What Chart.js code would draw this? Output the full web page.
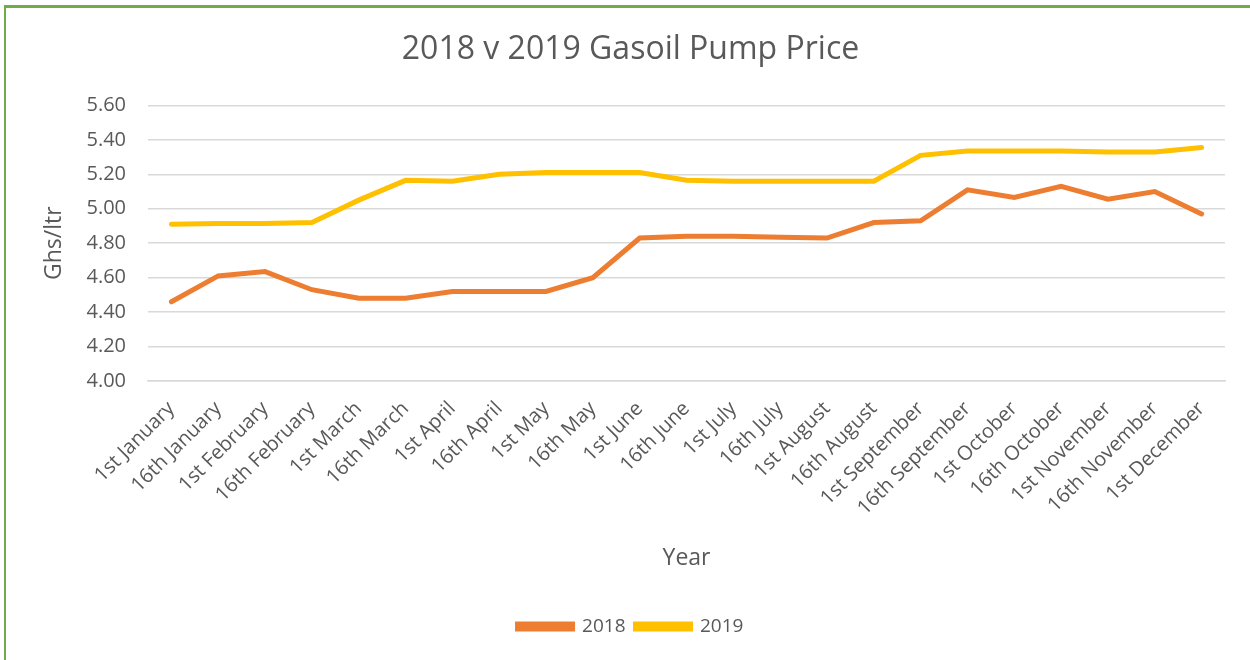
<!DOCTYPE html>
<html>
<head>
<meta charset="utf-8">
<script src="https://cdn.jsdelivr.net/npm/chart.js@4/dist/chart.umd.min.js"></script>
<style>
  html, body { margin: 0; padding: 0; background: #fff; overflow: hidden; }
  .frame {
    position: absolute; left: 4px; top: 5px; width: 1300px; height: 700px;
    border-left: 2px solid #70ad47; border-top: 3px solid #70ad47;
  }
  .wrap { position: absolute; left: 0; top: 0; width: 1250px; height: 660px; }
</style>
</head>
<body>
<div class="frame"></div>
<div class="wrap"><canvas id="priceChart"></canvas></div>
<script>
const categories = [
    "1st January", "16th January", "1st February", "16th February",
    "1st March", "16th March", "1st April", "16th April",
    "1st May", "16th May", "1st June", "16th June",
    "1st July", "16th July", "1st August", "16th August",
    "1st September", "16th September", "1st October", "16th October",
    "1st November", "16th November", "1st December"
];
const prices2018 = [4.46, 4.61, 4.635, 4.53, 4.48, 4.48, 4.52, 4.52, 4.52, 4.60, 4.83, 4.84,
    4.84, 4.835, 4.83, 4.92, 4.93, 5.11, 5.065, 5.13, 5.055, 5.10, 4.97];
const prices2019 = [4.91, 4.915, 4.915, 4.92, 5.05, 5.165, 5.16, 5.20, 5.21, 5.21, 5.21, 5.165,
    5.16, 5.16, 5.16, 5.16, 5.31, 5.335, 5.335, 5.335, 5.33, 5.33, 5.355];

const textColor = "#595959";
const fontFamily = "'Open Sans', 'Noto Sans', sans-serif";

// Chart
const ctx = document.getElementById("priceChart").getContext("2d");
new Chart(ctx, {
    type: "line",
    data: {
        labels: categories,
        datasets: [
            {
                label: "2018",
                data: prices2018,
                borderColor: "#ed7d31",
                backgroundColor: "#ed7d31",
                borderWidth: 5,
                pointRadius: 0,
                borderCapStyle: "round",
                tension: 0,
            },
            {
                label: "2019",
                data: prices2019,
                borderColor: "#ffc000",
                backgroundColor: "#ffc000",
                borderWidth: 5,
                pointRadius: 0,
                borderCapStyle: "round",
                tension: 0,
            },
        ],
    },
    options: {
        responsive: true,
        maintainAspectRatio: false,
        animation: false,
        layout: { padding: { left: 36, right: 25, top: 31, bottom: 14 } },
        plugins: {
            title: {
                display: true,
                text: "2018 v 2019 Gasoil Pump Price",
                color: textColor,
                font: { family: fontFamily, size: 32, weight: "normal" },
                padding: { top: 0, bottom: 36 },
            },
            legend: {
                display: true,
                position: "bottom",
                labels: {
                    color: textColor,
                    font: { family: fontFamily, size: 19 },
                    boxWidth: 55,
                    boxHeight: 5,
                    padding: 10,
                },
            },
            tooltip: { enabled: false },
        },
        scales: {
            x: {
                offset: true,
                grid: { display: false },
                border: { color: "#d9d9d9", width: 1.5 },
                afterFit: (scale) => { scale.height = 226; },
                ticks: {
                    color: textColor,
                    font: { family: fontFamily, size: 20 },
                    minRotation: 45,
                    maxRotation: 45,
                    autoSkip: false,
                    padding: 8,
                },
                title: {
                    display: true,
                    text: "Year",
                    color: textColor,
                    font: { family: fontFamily, size: 23 },
                    padding: { top: 18, bottom: 35 },
                },
            },
            y: {
                min: 4,
                max: 5.6,
                grid: { color: "#d9d9d9", lineWidth: 1.5, drawTicks: false },
                border: { display: false },
                afterFit: (scale) => { scale.width = 112; },
                ticks: {
                    stepSize: 0.2,
                    color: textColor,
                    font: { family: fontFamily, size: 20 },
                    padding: 22,
                    callback: (v) => v.toFixed(2),
                },
                title: {
                    display: true,
                    text: "Ghs/ltr",
                    color: textColor,
                    font: { family: fontFamily, size: 23 },
                    padding: { top: 5, bottom: 6 },
                },
            },
        },
    },
});
</script>
</body>
</html>
